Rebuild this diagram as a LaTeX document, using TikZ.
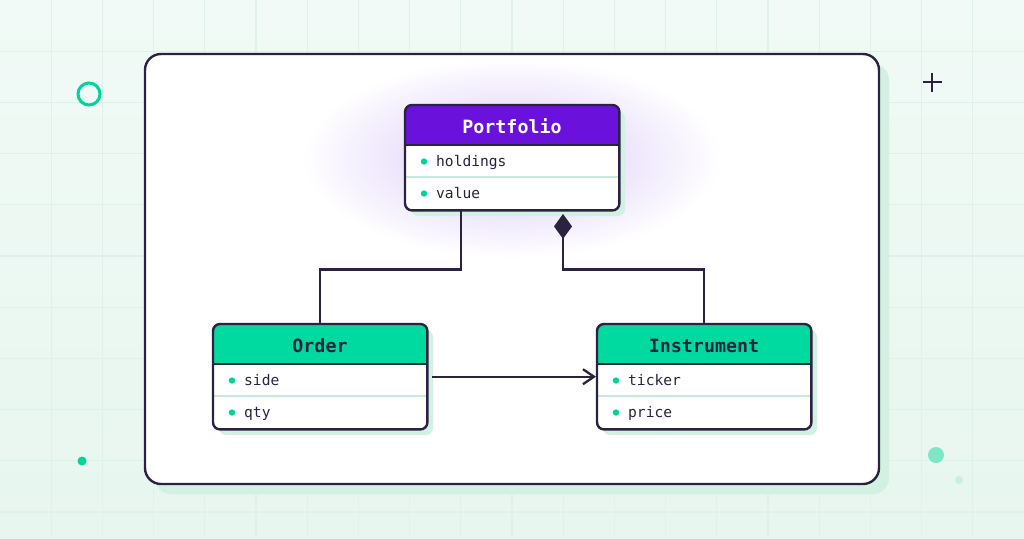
\documentclass[tikz,border=0pt]{standalone}
\usepackage{fontspec}
\setmonofont{DejaVu Sans Mono}
\usetikzlibrary{arrows.meta,calc}
\definecolor{ink}{HTML}{2B2240}
\definecolor{bgtop}{HTML}{F1FAF6}
\definecolor{bgbot}{HTML}{E7F6EF}
\definecolor{gridc}{HTML}{DFF1E8}
\definecolor{mint}{HTML}{00D49C}
\definecolor{hdrgreen}{HTML}{00D9A0}
\definecolor{hdrpurple}{HTML}{6A12DC}
\definecolor{shadowc}{HTML}{D2F1E3}
\definecolor{sepc}{HTML}{C4EDD9}
\definecolor{glowc}{HTML}{E3D6FA}
\definecolor{dotlight}{HTML}{7EE6C6}
\definecolor{dotpale}{HTML}{C8EEDD}
\pgfdeclareradialshading{glowshade}{\pgfpoint{0bp}{0bp}}{%
  color(0bp)=(glowc); color(9bp)=(glowc!85!white); color(17bp)=(glowc!45!white); color(25bp)=(white); color(50bp)=(white)}
\tikzset{
  classbox/.style={rectangle, inner sep=0pt, minimum width=214pt, minimum height=105pt, fill=white, rounded corners=7pt},
  classborder/.style={draw=ink, line width=2.4pt, rounded corners=7pt},
  boxshadow/.style={fill=shadowc, rounded corners=7pt},
  sepline/.style={draw=sepc, line width=1.2pt},
  hdrline/.style={draw=ink, line width=2.2pt},
  titletext/.style={inner sep=0pt, font=\ttfamily\bfseries\fontsize{18.3}{20}\selectfont},
  attrtext/.style={inner sep=0pt, text=ink, font=\ttfamily\fontsize{14.6}{16}\selectfont},
  bulletdot/.style={fill=mint},
  conn/.style={draw=ink, line width=2.3pt},
}
\newcommand\umlclass[8]{%
  % #1 name, #2 x, #3 top y, #4 header colour, #5 title colour, #6 title, #7 row1, #8 row2
  \fill[boxshadow] (#2+6,#3+6) rectangle (#2+220,#3+111);
  \node[classbox, anchor=north west] (#1) at (#2,#3) {};
  \begin{scope}
    \clip[rounded corners=7pt] (#2,#3) rectangle (#2+214,#3+105);
    \fill[#4] (#2,#3) rectangle (#2+214,#3+40);
  \end{scope}
  \draw[hdrline] (#2,#3+40) -- (#2+214,#3+40);
  \draw[sepline] (#2+1,#3+72) -- (#2+213,#3+72);
  \node[titletext, text=#5, anchor=base] (#1-title) at (#2+107,#3+28) {#6};
  \fill[bulletdot] (#2+19,#3+56.5) circle (3.2pt);
  \node[attrtext, anchor=base west] (#1-a) at (#2+31,#3+61) {#7};
  \fill[bulletdot] (#2+19,#3+88.5) circle (3.2pt);
  \node[attrtext, anchor=base west] (#1-b) at (#2+31,#3+93) {#8};
  \draw[classborder] (#1.north west) rectangle (#1.south east);
}
\begin{document}
\begin{tikzpicture}[x=1pt,y=-1pt]
\useasboundingbox (0,0) rectangle (1024,538);
% background
\shade[top color=bgtop, bottom color=bgbot] (0,0) rectangle (1024,538);
\foreach \i in {1,...,19} {
  \draw[gridc, line width=1.2pt] (51.2*\i,0) -- (51.2*\i,538);
}
\foreach \j in {1,...,10} {
  \draw[gridc, line width=1.2pt] (0,51.2*\j) -- (1024,51.2*\j);
}
% decorations
\draw[mint, line width=3pt] (89,94) circle (11pt);
\fill[mint] (82,461) circle (4.5pt);
\fill[dotlight] (936,455) circle (8pt);
\fill[dotpale] (959,480) circle (4pt);
\draw[ink, line width=2.3pt] (922.5,82) -- (941.5,82);
\draw[ink, line width=2.3pt] (932,72.5) -- (932,91.5);
% card
\fill[shadowc, rounded corners=16pt] (155,64) rectangle (889,494);
\fill[white, rounded corners=16pt] (145,54) rectangle (879,484);
\begin{scope}
  \clip[rounded corners=16pt] (145,54) rectangle (879,484);
  \shade[shading=glowshade] (512,158) ellipse [x radius=210pt, y radius=100pt];
\end{scope}
\draw[ink, line width=2.4pt, rounded corners=16pt] (145,54) rectangle (879,484);
% classes
\umlclass{P}{405}{105}{hdrpurple}{white}{Portfolio}{holdings}{value}
\umlclass{O}{213}{324}{hdrgreen}{ink}{Order}{side}{qty}
\umlclass{I}{597}{324}{hdrgreen}{ink}{Instrument}{ticker}{price}
% connectors
\draw[conn] ($(P.south west)+(56,0)$) -- ++(0,59) -| (O.north);
\draw[conn, {Diamond[length=25pt,width=18pt,fill=ink]}-] ($(P.south west)+(158,3.5)$) -- ++(0,55.5) -| (I.north);
\draw[conn, -{Straight Barb[length=11pt,width=15pt,line width=2.3pt]}, shorten <=5pt, shorten >=1pt] (O.east) -- (I.west);
\end{tikzpicture}
\end{document}
